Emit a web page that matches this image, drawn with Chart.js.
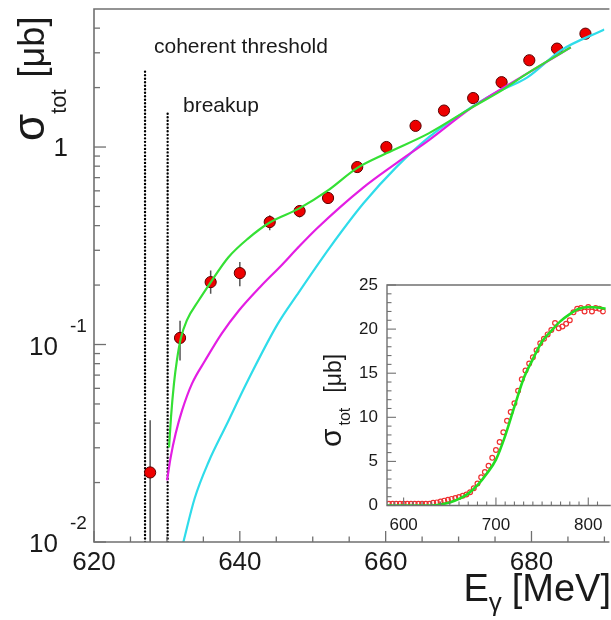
<!DOCTYPE html>
<html><head><meta charset="utf-8">
<script src="https://cdn.jsdelivr.net/npm/chart.js@4.4.1/dist/chart.umd.min.js"></script>
<style>
html,body{margin:0;padding:0;background:#fff;overflow:hidden;}
#wrap{position:relative;width:611px;height:620px;}
#main{position:absolute;left:0;top:0;}
#inset{position:absolute;left:300px;top:265px;}
</style></head><body>
<div id="wrap"><canvas id="main" width="611" height="620"></canvas><canvas id="inset" width="311" height="280"></canvas></div>
<script>
// ---------- main plot data (E_gamma in MeV, sigma in microbarn) ----------
const dataE      = [627.7, 631.8, 636.0, 640.0, 644.1, 648.2, 652.1, 656.1, 660.1, 664.1, 668.0, 672.0, 675.9, 679.7, 683.5, 687.4];
const dataSigma  = [0.0225, 0.108, 0.207, 0.230, 0.417, 0.474, 0.552, 0.792, 1.00, 1.28, 1.53, 1.77, 2.13, 2.75, 3.15, 3.75];
const dataErrLow = [0.005, 0.083, 0.181, 0.197, 0.379, 0.440, 0.530, 0.770, 0.98, 1.25, 1.50, 1.74, 2.09, 2.70, 3.10, 3.70];
const dataErrHigh= [0.0413, 0.132, 0.237, 0.262, 0.451, 0.507, 0.575, 0.815, 1.02, 1.31, 1.56, 1.80, 2.17, 2.80, 3.20, 3.80];

const greenE     = [630.29, 630.56, 630.97, 631.37, 631.91, 632.73, 634.35, 635.98, 638.41, 641.12, 644.10, 648.16, 652.09, 656.02, 660.08, 665.90, 671.85, 675.92, 679.44, 685.39];
const greenSigma = [0.0301, 0.0428, 0.0635, 0.0831, 0.1075, 0.1325, 0.167, 0.206, 0.276, 0.344, 0.415, 0.489, 0.603, 0.780, 0.929, 1.173, 1.588, 1.936, 2.361, 3.198];

const magentaE     = [630.02, 630.52, 631.20, 632.09, 633.44, 635.26, 637.51, 639.90, 642.75, 645.86, 647.89, 650.60, 656.96, 661.43, 665.90, 671.85, 679.44, 685.39];
const magentaSigma = [0.0205, 0.0269, 0.0354, 0.0465, 0.0634, 0.0832, 0.1135, 0.149, 0.195, 0.255, 0.307, 0.388, 0.625, 0.827, 1.081, 1.588, 2.361, 3.198];

const cyanE     = [632.2, 633.81, 635.70, 638.14, 641.12, 645.18, 647.89, 652.36, 656.96, 661.43, 665.90, 670.50, 674.97, 679.44, 684.04, 690.0];
const cyanSigma = [0.0098, 0.01665, 0.02535, 0.0390, 0.0659, 0.1268, 0.1794, 0.3105, 0.519, 0.789, 1.120, 1.482, 1.871, 2.254, 3.088, 3.94];

const thresholdE    = [627.0, 630.1];
const thresholdTop  = [2.45, 1.53];
const thresholdText = ['coherent threshold', 'breakup'];

const xTickValues = [620, 640, 660, 680];
const xTickLabels = ['620', '640', '660', '680'];
const yTickValues = [0.01, 0.1, 1];
const yTickBase   = ['10', '10', '1'];
const yTickExp    = ['-2', '-1', ''];

// ---------- inset data ----------
const insetE = [584,588,592,596,600,604,608,612,616,620,624,628,632,636,640,644,648,652,656,660,664,668,672,676,680,684,688,692,696,700,704,708,712,716,720,724,728,732,736,740,744,748,752,756,760,764,768,772,776,780,784,788,792,796,800,804,808,812,816];
const insetSigma = [0.2,0.2,0.2,0.2,0.2,0.2,0.2,0.2,0.2,0.2,0.2,0.2,
  0.3,0.35,0.45,0.55,0.65,0.75,0.85,0.95,1.1,1.25,
  1.5,1.95,2.5,3.2,3.8,4.5,5.4,6.3,7.2,8.3,
  9.6,10.6,11.6,13.0,14.3,15.3,16.1,16.8,17.6,18.4,
  18.9,19.4,19.9,20.7,20.1,20.3,20.6,21.0,21.9,22.3,
  22.4,22.0,22.5,22.0,22.4,22.3,22.0];
const insetFitE     = [582, 630, 640, 650, 660, 670, 680, 690, 700, 710, 720, 730, 740, 750, 760, 770, 780, 790, 800, 810, 819];
const insetFitSigma = [0, 0, 0.12, 0.35, 0.75, 1.35, 2.3, 3.6, 5.2, 7.9, 11.2, 14.4, 16.6, 18.6, 19.8, 20.9, 21.7, 22.3, 22.5, 22.45, 22.3];
const insetXTickValues = [600, 700, 800];
const insetXTickLabels = ['600', '700', '800'];
const insetYTickValues = [0, 5, 10, 15, 20, 25];
const insetYTickLabels = ['0', '5', '10', '15', '20', '25'];

// ---------- styling ----------
const FONT = '"Liberation Sans", Arial, Helvetica, sans-serif';
const AXIS = '#707070';
const TEXT = '#1a1a1a';
const GREEN = '#35e035';
const MAGENTA = '#e31ee3';
const CYAN = '#2fdcea';
const RED = '#ee0000';

function pts(xs, ys) { return xs.map((v, i) => ({ x: v, y: ys[i] })); }
function seg(ctx, x1, y1, x2, y2) { ctx.beginPath(); ctx.moveTo(x1, y1); ctx.lineTo(x2, y2); ctx.stroke(); }
function rich(ctx, parts, x, y, align) {
  ctx.textAlign = 'left';
  const w = parts.map(p => { ctx.font = p.size + 'px ' + FONT; return ctx.measureText(p.t).width + (p.gap || 0); });
  const total = w.reduce((a, b) => a + b, 0);
  let cx = align === 'right' ? x - total : (align === 'center' ? x - total / 2 : x);
  parts.forEach((p, i) => { ctx.font = p.size + 'px ' + FONT; ctx.fillText(p.t, cx, y + (p.dy || 0)); cx += w[i]; });
}

// ---------- main chart ----------
const mainDecor = {
  id: 'mainDecor',
  beforeDatasetsDraw(chart) {
    const { ctx, chartArea: a, scales: { x, y } } = chart;
    ctx.save();
    ctx.beginPath(); ctx.rect(a.left, a.top, a.right - a.left, a.bottom - a.top); ctx.clip();
    // threshold markers (dotted verticals)
    ctx.strokeStyle = '#000'; ctx.lineWidth = 2.4; ctx.lineCap = 'round'; ctx.setLineDash([0.01, 3.5]);
    thresholdE.forEach((e, i) => {
      const px = x.getPixelForValue(e);
      seg(ctx, px, a.bottom, px, y.getPixelForValue(thresholdTop[i]));
    });
    ctx.setLineDash([]); ctx.lineCap = 'butt';
    // error bars
    ctx.strokeStyle = '#555'; ctx.lineWidth = 1.5;
    dataE.forEach((e, i) => {
      const px = x.getPixelForValue(e);
      seg(ctx, px, y.getPixelForValue(dataErrLow[i]), px, y.getPixelForValue(dataErrHigh[i]));
    });
    ctx.restore();
  },
  afterDraw(chart) {
    const { ctx, chartArea: a, scales: { x, y } } = chart;
    ctx.save();
    ctx.strokeStyle = AXIS; ctx.lineWidth = 1.6;
    ctx.beginPath(); ctx.moveTo(a.right + 5, a.top); ctx.lineTo(a.left, a.top); ctx.lineTo(a.left, a.bottom); ctx.lineTo(a.right + 5, a.bottom); ctx.stroke();
    ctx.lineWidth = 1.3;
    for (let v = 620; v <= 690; v += 5) {
      const px = x.getPixelForValue(v);
      seg(ctx, px, a.bottom, px, a.bottom - (v % 20 === 0 ? 11 : 5.5));
    }
    for (let e = -2; e <= 0; e++) for (let m = 1; m <= 9; m++) {
      const v = m * Math.pow(10, e);
      if (v > 4.99) continue;
      const py = y.getPixelForValue(v);
      seg(ctx, a.left, py, a.left + (m === 1 ? 12 : 6), py);
    }
    ctx.fillStyle = TEXT;
    ctx.textBaseline = 'alphabetic';
    ctx.font = '26px ' + FONT; ctx.textAlign = 'center';
    xTickValues.forEach((v, i) => ctx.fillText(xTickLabels[i], x.getPixelForValue(v), a.bottom + 28));
    yTickValues.forEach((v, i) => {
      const py = y.getPixelForValue(v);
      if (yTickExp[i]) {
        ctx.font = '26px ' + FONT; ctx.textAlign = 'right'; ctx.fillText(yTickBase[i], a.left - 36, py + 10);
        ctx.font = '19px ' + FONT; ctx.textAlign = 'left'; ctx.fillText(yTickExp[i], a.left - 24, py - 13);
      } else {
        ctx.font = '26px ' + FONT; ctx.textAlign = 'right'; ctx.fillText(yTickBase[i], a.left - 26, py + 9);
      }
    });
    // annotations
    ctx.textAlign = 'left'; ctx.font = '21px ' + FONT;
    ctx.fillText(thresholdText[0], 154, 53);
    ctx.fillText(thresholdText[1], 183, 112);
    // y title
    ctx.save(); ctx.translate(44, 141); ctx.rotate(-Math.PI / 2);
    rich(ctx, [{ t: 'σ', size: 44 }, { t: 'tot', size: 22, dy: 22, gap: 12 }, { t: '[μb]', size: 36 }], 0, 0, 'left');
    ctx.restore();
    // x title
    rich(ctx, [{ t: 'E', size: 38 }, { t: 'γ', size: 26, dy: 10, gap: 10 }, { t: '[MeV]', size: 38 }], 611, 601, 'right');
    ctx.restore();
  }
};

new Chart(document.getElementById('main'), {
  type: 'line',
  data: {
    datasets: [
      { data: pts(greenE, greenSigma), borderColor: GREEN, borderWidth: 2.2, pointRadius: 0, cubicInterpolationMode: 'monotone' },
      { data: pts(magentaE, magentaSigma), borderColor: MAGENTA, borderWidth: 2.2, pointRadius: 0, cubicInterpolationMode: 'monotone' },
      { data: pts(cyanE, cyanSigma), borderColor: CYAN, borderWidth: 2.2, pointRadius: 0, cubicInterpolationMode: 'monotone' },
      { data: pts(dataE, dataSigma), showLine: false, pointRadius: 5.6, pointBackgroundColor: RED, pointBorderColor: '#5a0000', pointBorderWidth: 1 }
    ]
  },
  options: {
    responsive: false, animation: false, maintainAspectRatio: false,
    layout: { padding: { top: 9, right: 0, left: 0, bottom: 0 } },
    plugins: { legend: { display: false }, tooltip: { enabled: false } },
    scales: {
      x: { type: 'linear', min: 620, max: 690, ticks: { display: false }, grid: { display: false }, border: { display: false },
           afterFit(s) { s.height = 78; } },
      y: { type: 'logarithmic', min: 0.01, max: 5, ticks: { display: false }, grid: { display: false }, border: { display: false },
           afterFit(s) { s.width = 94; } }
    }
  },
  plugins: [mainDecor]
});

// ---------- inset chart ----------
const insetDecor = {
  id: 'insetDecor',
  afterDraw(chart) {
    const { ctx, chartArea: a, scales: { x, y } } = chart;
    ctx.save();
    ctx.strokeStyle = AXIS; ctx.lineWidth = 1.4;
    ctx.beginPath(); ctx.moveTo(a.right + 5, a.top); ctx.lineTo(a.left, a.top); ctx.lineTo(a.left, a.bottom); ctx.lineTo(a.right + 5, a.bottom); ctx.stroke();
    ctx.lineWidth = 1.1;
    for (let v = 590; v <= 819; v += 10) {
      const px = x.getPixelForValue(v);
      seg(ctx, px, a.bottom, px, a.bottom - (v % 100 === 0 ? 8 : 4));
    }
    for (let v = 0; v <= 25; v += 1) {
      const py = y.getPixelForValue(v);
      seg(ctx, a.left, py, a.left + (v % 5 === 0 ? 9 : 4.5), py);
    }
    ctx.fillStyle = TEXT; ctx.font = '17px ' + FONT;
    ctx.textAlign = 'center'; ctx.textBaseline = 'alphabetic';
    insetXTickValues.forEach((v, i) => ctx.fillText(insetXTickLabels[i], x.getPixelForValue(v), a.bottom + 24));
    ctx.textAlign = 'right'; ctx.textBaseline = 'middle';
    insetYTickValues.forEach((v, i) => ctx.fillText(insetYTickLabels[i], a.left - 9, y.getPixelForValue(v)));
    ctx.textBaseline = 'alphabetic';
    ctx.save(); ctx.translate(41, 182); ctx.rotate(-Math.PI / 2);
    rich(ctx, [{ t: 'σ', size: 30, gap: 3 }, { t: 'tot', size: 16, dy: 9, gap: 15 }, { t: '[μb]', size: 23 }], 0, 0, 'left');
    ctx.restore();
    ctx.restore();
  }
};

new Chart(document.getElementById('inset'), {
  type: 'line',
  data: {
    datasets: [
      { data: pts(insetFitE, insetFitSigma), borderColor: '#22dd22', borderWidth: 2.6, pointRadius: 0, cubicInterpolationMode: 'monotone' },
      { data: pts(insetE, insetSigma), showLine: false, pointRadius: 2.4, pointBackgroundColor: 'rgba(0,0,0,0)', pointBorderColor: '#ee3030', pointBorderWidth: 1.2 }
    ]
  },
  options: {
    responsive: false, animation: false, maintainAspectRatio: false,
    layout: { padding: { top: 20, right: 0, left: 0, bottom: 0 } },
    plugins: { legend: { display: false }, tooltip: { enabled: false } },
    scales: {
      x: { type: 'linear', min: 582, max: 819, ticks: { display: false }, grid: { display: false }, border: { display: false },
           afterFit(s) { s.height = 39.5; } },
      y: { type: 'linear', min: 0, max: 25, ticks: { display: false }, grid: { display: false }, border: { display: false },
           afterFit(s) { s.width = 87; } }
    }
  },
  plugins: [insetDecor]
});
</script></body></html>
